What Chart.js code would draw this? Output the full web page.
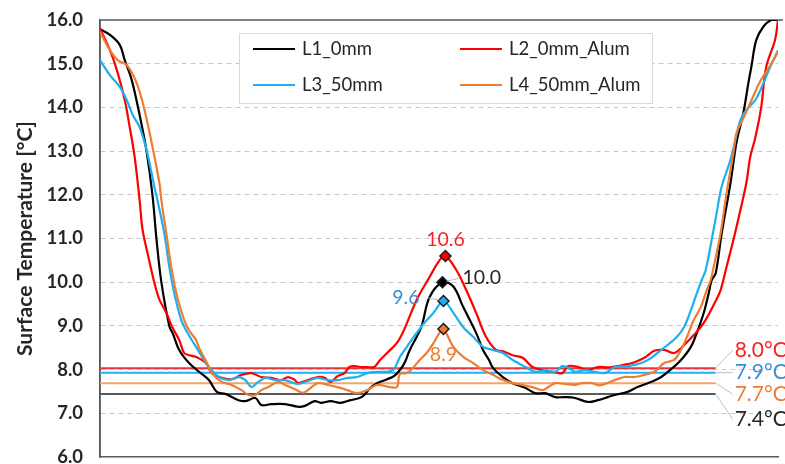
<!DOCTYPE html>
<html>
<head>
<meta charset="utf-8">
<script src="https://cdn.jsdelivr.net/npm/chart.js@4.4.0/dist/chart.umd.min.js"></script>
<style>
  html, body { margin: 0; padding: 0; background: #fff; }
  #wrap { width: 785px; height: 464px; }
</style>
</head>
<body>
<div id="wrap"><canvas id="chart"></canvas></div>
<script>
// position along the scan line (no x labels in the original, arbitrary units)
const l1X = [0, 1, 2, 2.5, 3.2, 4, 4.7, 5.3, 5.7, 6.2, 7, 7.4, 8, 9, 10, 11, 11.8, 12.7, 14, 14.7, 15.7, 16.3, 17.3, 18.7, 20, 20.7, 21.7, 22.3, 23.3, 24.3, 25.3, 26.2, 26.7, 27.3, 28, 29, 29.7, 30.3, 30.8, 31.3, 32, 32.5, 33.3, 34.6, 35.7, 36.7, 38, 38.7, 39.3, 39.7, 40.7, 41.7, 43, 44, 45, 46, 47, 48, 49.3, 50.3, 51.3, 52, 53.3, 54.3, 55.7, 56.7, 57.7, 58.7, 59.7, 60.3, 61, 61.5, 61.8, 62.2, 62.8, 63.7, 64.3, 65, 65.5, 65.8, 66.3, 67, 67.8, 68.5];
const l1Y = [15.79, 15.66, 15.43, 15.08, 14.63, 13.83, 13.0, 12.0, 11.0, 10.0, 9.0, 8.8, 8.45, 8.15, 7.95, 7.76, 7.49, 7.44, 7.30, 7.28, 7.35, 7.19, 7.21, 7.21, 7.15, 7.17, 7.28, 7.24, 7.28, 7.24, 7.30, 7.35, 7.42, 7.58, 7.69, 7.78, 7.85, 7.99, 8.17, 8.45, 8.75, 9.0, 9.66, 10.0, 9.9, 9.43, 8.84, 8.45, 8.22, 8.04, 7.83, 7.69, 7.58, 7.46, 7.46, 7.37, 7.37, 7.35, 7.26, 7.30, 7.37, 7.42, 7.49, 7.60, 7.72, 7.83, 8.01, 8.22, 8.52, 8.84, 9.3, 9.75, 10.05, 10.2, 11.1, 12.27, 13.19, 13.87, 14.55, 14.92, 15.54, 15.84, 16.0, 16.0];

const l2X = [0, 1, 1.7, 2.5, 3, 3.5, 4, 4.3, 4.8, 5.5, 6, 6.7, 7.3, 8, 8.5, 9, 9.7, 10.7, 11.3, 12.3, 13.3, 14.3, 15.3, 16.3, 17.3, 18.3, 19, 19.7, 20, 21, 22, 22.7, 23.3, 24, 24.7, 25.2, 25.7, 26.3, 27, 27.7, 28.3, 29, 30, 30.7, 32, 33.3, 34.3, 34.9, 36, 37, 38, 39, 40, 40.7, 41.7, 42.7, 43.7, 44.7, 45.7, 46.7, 47.3, 48.3, 49.3, 50.3, 51.3, 52.7, 54, 55, 56, 57, 58, 59, 60, 61, 62, 62.7, 63.3, 64, 64.7, 65.3, 65.7, 66.2, 66.8, 67.3, 68.2, 68.5];
const l2Y = [15.8, 15.31, 14.86, 14.17, 13.55, 12.87, 11.88, 11.2, 10.67, 9.98, 9.6, 9.3, 8.97, 8.68, 8.38, 8.33, 8.29, 8.15, 7.92, 7.81, 7.78, 7.88, 7.92, 7.83, 7.81, 7.76, 7.83, 7.76, 7.69, 7.76, 7.83, 7.81, 7.72, 7.85, 7.92, 8.06, 8.08, 8.06, 8.06, 8.06, 8.22, 8.38, 8.61, 8.9, 9.6, 10.12, 10.5, 10.6, 10.28, 9.82, 9.3, 8.75, 8.45, 8.42, 8.33, 8.27, 8.06, 7.99, 7.95, 7.92, 8.08, 8.06, 7.99, 8.06, 8.05, 8.1, 8.17, 8.27, 8.43, 8.45, 8.38, 8.56, 8.79, 9.07, 9.48, 9.82, 10.35, 10.97, 11.65, 12.27, 12.87, 13.3, 14.0, 14.92, 15.54, 16.0, 16.0];

const l3X = [0, 1, 2, 2.7, 3.3, 4, 4.7, 5.5, 5.8, 6.5, 7, 7.5, 8.2, 8.8, 9.7, 11, 12, 13, 14, 14.7, 15.3, 16, 16.7, 17.7, 18.7, 20, 21, 22, 23, 24, 25, 26, 27, 28, 29, 29.7, 30.3, 31, 31.7, 32.2, 32.7, 33.7, 34.7, 35.7, 36.7, 37.7, 38.7, 39.7, 40.7, 41.7, 43, 44, 45, 46, 46.7, 47.3, 48, 49, 50, 51, 52, 53.3, 54.7, 55.7, 56.7, 57.7, 58.3, 59, 59.7, 60.3, 60.8, 61.2, 61.8, 62.3, 62.8, 63.7, 64.2, 64.7, 65.3, 66.3, 67.7, 68.5];
const l3Y = [15.08, 14.74, 14.47, 14.17, 13.83, 13.55, 13.03, 12.18, 11.88, 11.12, 10.35, 9.75, 9.14, 8.86, 8.52, 8.06, 7.83, 7.76, 7.83, 7.76, 7.6, 7.72, 7.81, 7.76, 7.76, 7.67, 7.74, 7.81, 7.76, 7.76, 7.81, 7.83, 7.92, 7.95, 7.95, 8.01, 8.29, 8.52, 8.75, 8.9, 9.05, 9.3, 9.57, 9.3, 8.97, 8.75, 8.52, 8.45, 8.38, 8.22, 8.06, 7.95, 7.99, 7.95, 8.08, 8.04, 7.95, 7.99, 7.95, 7.92, 8.06, 8.08, 8.15, 8.27, 8.45, 8.63, 8.75, 8.97, 9.36, 9.75, 10.05, 10.28, 10.97, 11.58, 12.18, 12.8, 13.26, 13.71, 13.94, 14.2, 14.92, 15.3];

const l4X = [0, 1, 1.8, 2.7, 3.7, 4.5, 5.3, 6, 6.2, 6.7, 7.2, 7.8, 8.5, 9, 9.7, 10, 10.7, 11.3, 12.3, 13.3, 14.3, 15, 15.7, 16.3, 17, 18, 18.7, 19.7, 20.5, 21, 22, 23, 24, 25, 26, 27, 28, 29.3, 30, 30.3, 31, 31.7, 32.3, 33, 33.7, 34.3, 34.7, 35.7, 36.7, 37.7, 38.7, 39.7, 40.7, 41.7, 42.7, 43.7, 44.7, 45.3, 46, 47, 48, 48.7, 49.7, 50.5, 52, 53, 54, 55, 56, 57, 58, 58.7, 59.3, 60, 60.7, 61.3, 61.7, 62, 62.7, 63.3, 64, 64.3, 65, 65.7, 66.7, 67.7, 68.5];
const l4Y = [15.73, 15.31, 15.08, 14.97, 14.56, 13.94, 13.1, 12.27, 11.88, 11.12, 10.35, 9.66, 9.14, 8.9, 8.68, 8.5, 8.2, 7.92, 7.72, 7.65, 7.53, 7.42, 7.42, 7.53, 7.6, 7.72, 7.65, 7.55, 7.47, 7.53, 7.69, 7.65, 7.6, 7.53, 7.46, 7.53, 7.65, 7.6, 7.6, 7.9, 7.92, 8.06, 8.22, 8.38, 8.61, 8.84, 8.93, 8.52, 8.29, 8.15, 7.99, 7.88, 7.76, 7.69, 7.65, 7.6, 7.53, 7.6, 7.69, 7.67, 7.65, 7.69, 7.69, 7.64, 7.76, 7.83, 7.83, 7.88, 7.95, 8.15, 8.22, 8.45, 8.75, 9.14, 9.43, 9.82, 10.05, 10.35, 11.12, 12.04, 12.96, 13.41, 13.75, 14.1, 14.6, 14.95, 15.27];

const names = ['L1_0mm', 'L2_0mm_Alum', 'L3_50mm', 'L4_50mm_Alum'];
const lineColors = ['#000000', '#ff0000', '#1cb0f0', '#ed7d31'];
const meanColors = ['#595959', '#e8383d', '#1cb4f5', '#f4a46c'];
const textColors = ['#262626', '#ff1f1f', '#3a8ed6', '#ed7d31'];

// average level of the flat part, drawn as horizontal lines
const meanVals = [7.44, 8.03, 7.93, 7.69];
const meanEndX = 62.2;

// peak in the middle
const peakX = [34.6, 34.9, 34.7, 34.7];
const peakY = [10.0, 10.6, 9.57, 8.93];

const seriesX = [l1X, l2X, l3X, l4X];
const seriesY = [l1Y, l2Y, l3Y, l4Y];

const datasets = [];
for (let i = 0; i < 4; i++) {
    datasets.push({
        label: names[i],
        data: seriesX[i].map((x, j) => ({ x: x, y: seriesY[i][j] })),
        borderColor: lineColors[i],
        borderWidth: 2.2,
        pointRadius: 0,
        tension: 0.35,
        order: 4 - i
    });
}
for (let i = 0; i < 4; i++) {
    datasets.push({
        label: 'mean ' + names[i],
        data: [{ x: 0, y: meanVals[i] }, { x: meanEndX, y: meanVals[i] }],
        borderColor: meanColors[i],
        borderWidth: 2,
        pointRadius: 0,
        order: 10
    });
}
for (let i = 0; i < 4; i++) {
    datasets.push({
        label: 'peak ' + names[i],
        data: [{ x: peakX[i], y: peakY[i] }],
        showLine: false,
        pointStyle: 'rectRot',
        pointRadius: 5.5,
        pointBackgroundColor: lineColors[i],
        pointBorderColor: '#1a1a1a',
        pointBorderWidth: 1.5,
        order: 0
    });
}

const frame = {
    id: 'frame',
    beforeDatasetsDraw(chart) {
        const { ctx, chartArea: a } = chart;
        ctx.save();
        ctx.strokeStyle = '#595959';
        ctx.lineWidth = 1.5;
        ctx.beginPath();
        ctx.moveTo(a.left, a.bottom);
        ctx.lineTo(a.left, a.top);
        ctx.lineTo(a.right + 5, a.top);
        ctx.stroke();
        ctx.restore();
    }
};

const labels = {
    id: 'labels',
    afterDatasetsDraw(chart) {
        const { ctx } = chart;
        const xs = chart.scales.x, ys = chart.scales.y;
        ctx.save();
        // legend box
        ctx.fillStyle = '#fff';
        ctx.fillRect(239, 33, 413, 70);
        ctx.strokeStyle = '#d9d9d9';
        ctx.lineWidth = 1;
        ctx.strokeRect(239.5, 33.5, 413, 70);
        ctx.font = '18.5px Lato';
        ctx.textBaseline = 'middle';
        ctx.textAlign = 'left';
        const lx = [253, 460, 253, 460], ly = [49, 49, 85, 85];
        for (let i = 0; i < 4; i++) {
            ctx.strokeStyle = lineColors[i];
            ctx.lineWidth = 2.2;
            ctx.beginPath();
            ctx.moveTo(lx[i], ly[i]);
            ctx.lineTo(lx[i] + 42, ly[i]);
            ctx.stroke();
            ctx.fillStyle = '#262626';
            ctx.fillText(names[i], lx[i] + 49, ly[i]);
        }

        // mean value labels at the right
        const dy = [25, -18, 0, 11];
        ctx.font = '21px Lato';
        for (let i = 0; i < 4; i++) {
            const x0 = xs.getPixelForValue(meanEndX);
            const y0 = ys.getPixelForValue(meanVals[i]);
            ctx.strokeStyle = '#bfbfbf';
            ctx.lineWidth = 1;
            ctx.beginPath();
            ctx.moveTo(x0, y0);
            ctx.lineTo(x0 + 17, y0 + dy[i]);
            ctx.stroke();
            ctx.fillStyle = textColors[i];
            ctx.fillText(meanVals[i].toFixed(1) + '°C', x0 + 19, y0 + dy[i]);
        }

        // peak labels
        ctx.font = '19.5px Lato';
        const px = peakX.map(v => xs.getPixelForValue(v));
        const py = peakY.map(v => ys.getPixelForValue(v));
        ctx.strokeStyle = '#bfbfbf';
        ctx.lineWidth = 1;
        ctx.beginPath();
        ctx.moveTo(px[0] + 4, py[0] - 1);
        ctx.lineTo(px[0] + 17, py[0] - 4);
        ctx.moveTo(px[2] - 4, py[2] - 1);
        ctx.lineTo(px[2] - 15, py[2] - 3);
        ctx.stroke();
        ctx.textAlign = 'left';
        ctx.fillStyle = textColors[0];
        ctx.fillText(peakY[0].toFixed(1), px[0] + 20, py[0] - 4);
        ctx.textAlign = 'right';
        ctx.fillStyle = textColors[2];
        ctx.fillText(peakY[2].toFixed(1), px[2] - 24, py[2] - 3);
        ctx.textAlign = 'center';
        ctx.fillStyle = textColors[1];
        ctx.fillText(peakY[1].toFixed(1), px[1], py[1] - 16);
        ctx.fillStyle = textColors[3];
        ctx.fillText(peakY[3].toFixed(1), px[3], py[3] + 26);
        ctx.restore();
    }
};

new Chart(document.getElementById('chart'), {
    type: 'line',
    data: { datasets: datasets },
    options: {
        responsive: true,
        maintainAspectRatio: false,
        animation: false,
        layout: { padding: { left: 0, right: 0, top: 20, bottom: 0 } },
        plugins: { legend: { display: false }, tooltip: { enabled: false } },
        scales: {
            x: {
                type: 'linear',
                min: 0,
                max: 68.5,
                ticks: { display: false },
                grid: { display: false, drawTicks: false },
                border: { display: true, color: '#595959', width: 1.5 },
                afterFit: s => { s.height = 7; }
            },
            y: {
                min: 6,
                max: 16,
                ticks: {
                    stepSize: 1,
                    padding: 17,
                    color: '#262626',
                    font: { family: 'Lato', size: 18.5, weight: 'bold' },
                    callback: v => v.toFixed(1)
                },
                grid: {
                    drawTicks: false,
                    color: ctx => (ctx.tick.value === 6 || ctx.tick.value === 16) ? 'rgba(0,0,0,0)' : '#c8c8c8',
                    lineWidth: 1
                },
                border: { display: true, color: '#595959', width: 1.5, dash: [5, 4] },
                title: {
                    display: true,
                    text: 'Surface Temperature [°C]',
                    color: '#262626',
                    font: { family: 'Lato', size: 21, weight: 'bold' },
                    padding: { top: 13, bottom: 0 }
                },
                afterFit: s => { s.width = 100; s.paddingTop = 0; s.paddingBottom = 0; }
            }
        }
    },
    plugins: [frame, labels]
});
</script>
</body>
</html>
